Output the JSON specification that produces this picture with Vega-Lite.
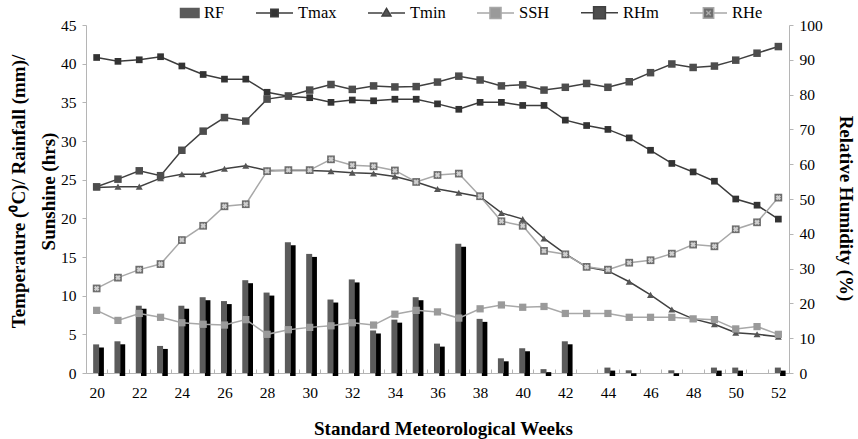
{
  "$schema": "https://vega.github.io/schema/vega-lite/v6.json",
  "width": 703,
  "height": 348,
  "autosize": {"type": "none"},
  "padding": {"left": 86, "top": 25, "right": 69, "bottom": 66},
  "background": "white",
  "config": {
    "font": "Liberation Serif",
    "view": {"stroke": null},
    "axis": {
      "labelFont": "Liberation Serif",
      "titleFont": "Liberation Serif",
      "labelFontSize": 15.5,
      "labelColor": "#000000",
      "titleColor": "#000000",
      "titleFontSize": 19,
      "titleFontWeight": "bold",
      "grid": false,
      "domainColor": "#b5b5b5",
      "tickColor": "#b5b5b5"
    }
  },
  "data": {
    "values": [
      {"week": 20, "RF": 3.7, "Tmax": 40.8, "Tmin": 24.0, "SSH": 8.1, "RHm": 53.5, "RHe": 24.3},
      {"week": 21, "RF": 4.1, "Tmax": 40.3, "Tmin": 24.1, "SSH": 6.8, "RHm": 55.7, "RHe": 27.4},
      {"week": 22, "RF": 8.7, "Tmax": 40.5, "Tmin": 24.1, "SSH": 7.7, "RHm": 58.1, "RHe": 29.7},
      {"week": 23, "RF": 3.5, "Tmax": 40.9, "Tmin": 25.2, "SSH": 7.2, "RHm": 56.7, "RHe": 31.3},
      {"week": 24, "RF": 8.7, "Tmax": 39.7, "Tmin": 25.7, "SSH": 6.5, "RHm": 64.0, "RHe": 38.2},
      {"week": 25, "RF": 9.8, "Tmax": 38.6, "Tmin": 25.7, "SSH": 6.3, "RHm": 69.5, "RHe": 42.3},
      {"week": 26, "RF": 9.3, "Tmax": 38.0, "Tmin": 26.4, "SSH": 6.2, "RHm": 73.4, "RHe": 47.9},
      {"week": 27, "RF": 12.0, "Tmax": 38.0, "Tmin": 26.8, "SSH": 6.9, "RHm": 72.4, "RHe": 48.5},
      {"week": 28, "RF": 10.4, "Tmax": 36.3, "Tmin": 26.2, "SSH": 5.0, "RHm": 78.7, "RHe": 58.0},
      {"week": 29, "RF": 16.9, "Tmax": 35.8, "Tmin": 26.2, "SSH": 5.6, "RHm": 79.6, "RHe": 58.3},
      {"week": 30, "RF": 15.4, "Tmax": 35.6, "Tmin": 26.2, "SSH": 5.9, "RHm": 81.3, "RHe": 58.3},
      {"week": 31, "RF": 9.5, "Tmax": 35.0, "Tmin": 26.1, "SSH": 6.1, "RHm": 82.9, "RHe": 61.4},
      {"week": 32, "RF": 12.1, "Tmax": 35.3, "Tmin": 25.9, "SSH": 6.5, "RHm": 81.5, "RHe": 59.7},
      {"week": 33, "RF": 5.5, "Tmax": 35.2, "Tmin": 25.8, "SSH": 6.2, "RHm": 82.5, "RHe": 59.4},
      {"week": 34, "RF": 6.9, "Tmax": 35.4, "Tmin": 25.4, "SSH": 7.6, "RHm": 82.2, "RHe": 58.2},
      {"week": 35, "RF": 9.8, "Tmax": 35.4, "Tmin": 24.7, "SSH": 8.1, "RHm": 82.3, "RHe": 54.9},
      {"week": 36, "RF": 3.8, "Tmax": 34.8, "Tmin": 23.8, "SSH": 7.9, "RHm": 83.6, "RHe": 56.9},
      {"week": 37, "RF": 16.7, "Tmax": 34.1, "Tmin": 23.3, "SSH": 7.1, "RHm": 85.3, "RHe": 57.3},
      {"week": 38, "RF": 7.0, "Tmax": 35.0, "Tmin": 22.8, "SSH": 8.3, "RHm": 84.2, "RHe": 50.8},
      {"week": 39, "RF": 1.9, "Tmax": 35.0, "Tmin": 20.7, "SSH": 8.8, "RHm": 82.5, "RHe": 43.6},
      {"week": 40, "RF": 3.2, "Tmax": 34.6, "Tmin": 19.9, "SSH": 8.5, "RHm": 82.8, "RHe": 42.3},
      {"week": 41, "RF": 0.5, "Tmax": 34.6, "Tmin": 17.4, "SSH": 8.6, "RHm": 81.3, "RHe": 35.1},
      {"week": 42, "RF": 4.1, "Tmax": 32.7, "Tmin": 15.4, "SSH": 7.7, "RHm": 82.1, "RHe": 34.1},
      {"week": 43, "RF": 0, "Tmax": 32.0, "Tmin": 13.7, "SSH": 7.7, "RHm": 83.2, "RHe": 30.5},
      {"week": 44, "RF": 0.7, "Tmax": 31.5, "Tmin": 13.2, "SSH": 7.7, "RHm": 82.1, "RHe": 29.7},
      {"week": 45, "RF": 0.35, "Tmax": 30.4, "Tmin": 11.8, "SSH": 7.2, "RHm": 83.7, "RHe": 31.7},
      {"week": 46, "RF": 0, "Tmax": 28.8, "Tmin": 10.1, "SSH": 7.2, "RHm": 86.3, "RHe": 32.4},
      {"week": 47, "RF": 0.35, "Tmax": 27.1, "Tmin": 8.2, "SSH": 7.2, "RHm": 88.8, "RHe": 34.3},
      {"week": 48, "RF": 0, "Tmax": 26.0, "Tmin": 7.0, "SSH": 7.0, "RHm": 87.8, "RHe": 36.9},
      {"week": 49, "RF": 0.7, "Tmax": 24.8, "Tmin": 6.3, "SSH": 6.9, "RHm": 88.2, "RHe": 36.4},
      {"week": 50, "RF": 0.7, "Tmax": 22.5, "Tmin": 5.2, "SSH": 5.7, "RHm": 89.9, "RHe": 41.3},
      {"week": 51, "RF": 0, "Tmax": 21.7, "Tmin": 5.0, "SSH": 6.0, "RHm": 91.9, "RHe": 43.3},
      {"week": 52, "RF": 0.7, "Tmax": 19.9, "Tmin": 4.7, "SSH": 5.0, "RHm": 93.8, "RHe": 50.4}
    ]
  },
  "encoding": {
    "x": {
      "field": "week",
      "type": "ordinal",
      "scale": {"paddingInner": 0, "paddingOuter": 0},
      "axis": {
        "title": "Standard Meteorological Weeks",
        "titleX": 357,
        "labelAngle": 0,
        "labelExpr": "datum.value % 2 == 0 ? datum.label : ''",
        "tickBand": "extent",
        "tickSize": -4,
        "labelPadding": 16,
        "titlePadding": 19
      }
    }
  },
  "layer": [
    {
      "layer": [
        {
          "mark": {"type": "bar", "width": 5.5, "xOffset": 4.5, "yOffset": 3, "y2Offset": 3, "color": "#000000"},
          "encoding": {
            "y": {
              "field": "RF",
              "type": "quantitative",
              "scale": {"domain": [0, 45]},
              "axis": {
                "title": ["Temperature (⁰C)/ Rainfall (mm)/", "Sunshine (hrs)"],
                "titleY": 166,
                "values": [0, 5, 10, 15, 20, 25, 30, 35, 40, 45],
                "tickSize": 4,
                "labelPadding": 6,
                "titlePadding": 2,
                "titleLineHeight": 30
              }
            }
          }
        },
        {
          "mark": {"type": "bar", "width": 6, "xOffset": -0.5, "color": "#5b5b5b"},
          "encoding": {
            "y": {
              "field": "RF",
              "type": "quantitative",
              "scale": {"domain": [0, 45]},
              "axis": {
                "title": ["Temperature (⁰C)/ Rainfall (mm)/", "Sunshine (hrs)"],
                "titleY": 166,
                "values": [0, 5, 10, 15, 20, 25, 30, 35, 40, 45],
                "tickSize": 4,
                "labelPadding": 6,
                "titlePadding": 2,
                "titleLineHeight": 30
              }
            }
          }
        },
        {
          "transform": [{"fold": ["Tmax", "Tmin", "SSH"], "as": ["key", "val"]}],
          "encoding": {
            "y": {
              "field": "val",
              "type": "quantitative",
              "scale": {"domain": [0, 45]},
              "axis": {
                "title": ["Temperature (⁰C)/ Rainfall (mm)/", "Sunshine (hrs)"],
                "titleY": 166,
                "values": [0, 5, 10, 15, 20, 25, 30, 35, 40, 45],
                "tickSize": 4,
                "labelPadding": 6,
                "titlePadding": 2,
                "titleLineHeight": 30
              }
            }
          },
          "layer": [
            {
              "mark": {"type": "line", "strokeWidth": 1.5},
              "encoding": {
                "color": {
                  "field": "key",
                  "type": "nominal",
                  "scale": {
                    "domain": ["RF", "Tmax", "Tmin", "SSH", "RHm", "RHe"],
                    "range": ["#5b5b5b", "#3c3c3c", "#404040", "#a8a8a8", "#404040", "#a8a8a8"]
                  },
                  "legend": {
                    "orient": "none",
                    "legendX": 75,
                    "legendY": -32,
                    "direction": "horizontal",
                    "title": null,
                    "padding": 0,
                    "symbolSize": 1369,
                    "symbolStrokeWidth": 1.5,
                    "labelFont": "Liberation Serif",
                    "labelFontSize": 16.5,
                    "labelColor": "#000000",
                    "labelOffset": 4,
                    "columnPadding": 28,
                    "encode": {
                      "symbols": {
                        "update": {
                          "shape": {"signal": "datum.value==='RF'?'M0,-0.24H1V0.24H0Z':datum.value==='Tmax'?'M-1,0H-0.2M0.2,0H1M-0.2,-0.2H0.2V0.2H-0.2Z':datum.value==='Tmin'?'M-1,0H-0.22M0.22,0H1M0,-0.25L0.24,0.16H-0.24Z':datum.value==='SSH'?'M-1,0H-0.3M0.3,0H1M-0.3,-0.3H0.3V0.3H-0.3Z':datum.value==='RHm'?'M-1,0H-0.32M0.32,0H1M-0.32,-0.32H0.32V0.32H-0.32Z':'M-1,0H-0.28M0.28,0H1M-0.28,-0.28H0.28V0.28H-0.28ZM-0.12,-0.12L0.12,0.12M0.12,-0.12L-0.12,0.12'"},
                          "fill": {"signal": "datum.value==='RF'?'#5b5b5b':datum.value==='Tmax'?'#333333':datum.value==='Tmin'?'#555555':datum.value==='SSH'?'#9a9a9a':datum.value==='RHm'?'#4d4d4d':'#6e6e6e'"},
                          "stroke": {"signal": "datum.value==='RF'?'#262626':(datum.value==='SSH'||datum.value==='RHe')?'#a8a8a8':'#3c3c3c'"},
                          "strokeWidth": {"value": 1.5},
                          "opacity": {"value": 1}
                        }
                      }
                    }
                  }
                }
              }
            },
            {
              "mark": {"type": "point", "filled": true, "opacity": 1},
              "encoding": {
                "fill": {
                  "field": "key",
                  "type": "nominal",
                  "scale": {"domain": ["Tmax", "Tmin", "SSH", "RHm", "RHe"], "range": ["#333333", "#555555", "#9a9a9a", "#4d4d4d", "#6e6e6e"]},
                  "legend": null
                },
                "shape": {
                  "field": "key",
                  "type": "nominal",
                  "scale": {"domain": ["Tmax", "Tmin", "SSH", "RHm", "RHe"], "range": ["square", "triangle-up", "square", "square", "square"]},
                  "legend": null
                },
                "size": {
                  "field": "key",
                  "type": "ordinal",
                  "scale": {"domain": ["Tmax", "Tmin", "SSH", "RHm", "RHe"], "range": [45, 60, 121, 144, 121]},
                  "legend": null
                }
              }
            }
          ]
        }
      ]
    },
    {
      "transform": [{"fold": ["RHm", "RHe"], "as": ["key", "val"]}],
      "encoding": {
        "y": {
          "field": "val",
          "type": "quantitative",
          "scale": {"domain": [0, 100]},
          "axis": {
            "orient": "right",
            "title": "Relative Humidity (%)",
            "titleY": 183,
            "values": [0, 10, 20, 30, 40, 50, 60, 70, 80, 90, 100],
            "tickSize": 4,
            "labelPadding": 6,
            "titlePadding": 13
          }
        }
      },
      "layer": [
        {
          "mark": {"type": "line", "strokeWidth": 1.5},
          "encoding": {
            "color": {
              "field": "key",
              "type": "nominal",
              "scale": {
                "domain": ["RF", "Tmax", "Tmin", "SSH", "RHm", "RHe"],
                "range": ["#5b5b5b", "#3c3c3c", "#404040", "#a8a8a8", "#404040", "#a8a8a8"]
              }
            }
          }
        },
        {
          "mark": {"type": "point", "filled": true, "opacity": 1},
          "encoding": {
            "fill": {
              "field": "key",
              "type": "nominal",
              "scale": {"domain": ["Tmax", "Tmin", "SSH", "RHm", "RHe"], "range": ["#333333", "#555555", "#9a9a9a", "#4d4d4d", "#6e6e6e"]},
              "legend": null
            },
            "shape": {
              "field": "key",
              "type": "nominal",
              "scale": {"domain": ["Tmax", "Tmin", "SSH", "RHm", "RHe"], "range": ["square", "triangle-up", "square", "square", "square"]},
              "legend": null
            },
            "size": {
              "field": "key",
              "type": "ordinal",
              "scale": {"domain": ["Tmax", "Tmin", "SSH", "RHm", "RHe"], "range": [45, 60, 121, 144, 121]},
              "legend": null
            }
          }
        },
        {
          "transform": [{"filter": "datum.key === 'RHe'"}],
          "mark": {"type": "point", "filled": true, "opacity": 1, "shape": "cross", "angle": 45, "size": 30, "color": "#cfcfcf"},
          "encoding": {}
        }
      ]
    }
  ],
  "resolve": {"scale": {"y": "independent"}}
}
